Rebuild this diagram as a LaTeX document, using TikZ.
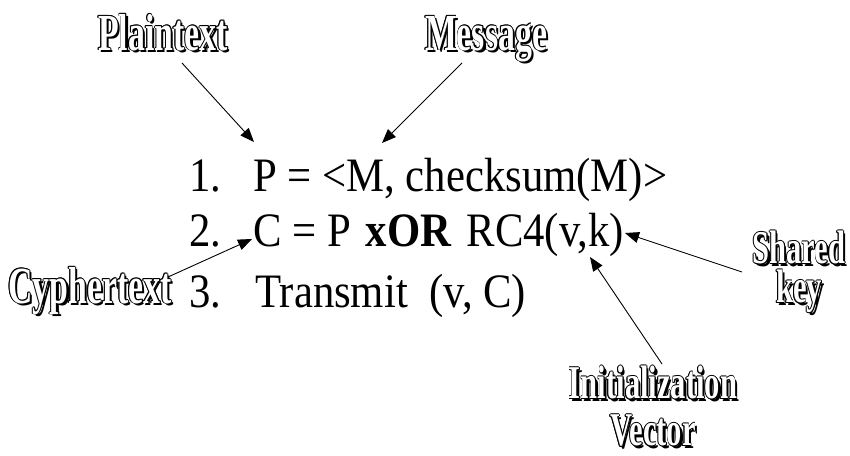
\documentclass[tikz,border=0pt]{standalone}
\usepackage{fontspec}
\usepackage{graphicx}
\setmainfont{Liberation Serif}
\usetikzlibrary{arrows.meta}
\newsavebox\lblsave
\newsavebox\lblwhite
\newcommand\fancy[2]{%
 \sbox\lblsave{\scalebox{0.65}[1]{\fontsize{#1}{#1}\selectfont\bfseries\color{black}#2}}%
 \sbox\lblwhite{\scalebox{0.65}[1]{\fontsize{#1}{#1}\selectfont\bfseries\color{white}#2}}%
 \rlap{\kern2.4pt\raisebox{-2.4pt}{\usebox\lblsave}}%
 \rlap{\kern.8pt\usebox\lblsave}%
 \rlap{\kern-.8pt\usebox\lblsave}%
 \rlap{\raisebox{.8pt}{\usebox\lblsave}}%
 \rlap{\raisebox{-.8pt}{\usebox\lblsave}}%
 \rlap{\kern.56pt\raisebox{.56pt}{\usebox\lblsave}}%
 \rlap{\kern-.56pt\raisebox{.56pt}{\usebox\lblsave}}%
 \rlap{\kern.56pt\raisebox{-.56pt}{\usebox\lblsave}}%
 \rlap{\kern-.56pt\raisebox{-.56pt}{\usebox\lblsave}}%
 \usebox\lblwhite}
\newcommand\mtxt[1]{\scalebox{0.89}[1]{#1}}
\tikzset{
 main/.style={inner sep=0pt, anchor=base west, font=\fontsize{48}{58}\selectfont},
 lbl/.style={inner sep=0pt, anchor=base},
 lbltwo/.style={inner sep=0pt, anchor=north, align=center},
 ptr/.style={draw, line width=0.9pt, -{Triangle[length=14pt,width=11pt]}}
}
\begin{document}
\begin{tikzpicture}[x=1pt,y=-1pt]
\useasboundingbox (0,0) rectangle (850,455);
% numbered lines
\node[main] (n1) at (189,191) {\mtxt{1.}};
\node[main] (l1) at (253,191) {\mtxt{P = <M, checksum(M)>}};
\node[main] (n2) at (189,246) {\mtxt{2.}};
\node[main] (l2) at (253,246) {\mtxt{C = P\hspace{0.35em}\textbf{xOR}\hspace{0.35em}RC4(v,k)}};
\node[main] (n3) at (189,307) {\mtxt{3.}};
\node[main] (l3) at (255,307) {\mtxt{Transmit\hspace{0.5em}(v, C)}};
% labels
\node[lbl] (plain) at (163,50) {\fancy{52}{Plaintext}};
\node[lbl] (msg) at (486,50) {\fancy{52}{Message}};
\node[lbl] (cyph) at (90,303) {\fancy{52}{Cyphertext}};
\node[lbltwo, font=\fontsize{47}{39}\selectfont] (shk) at (799,230) {\fancy{47}{Shared}\\\fancy{47}{key}};
\node[lbltwo, font=\fontsize{47}{47}\selectfont] (ivec) at (653,365) {\fancy{47}{Initialization}\\\fancy{47}{Vector}};
% arrow ends
\coordinate (plainT) at (182,63);
\coordinate (plainH) at (254,142);
\coordinate (msgT) at (462,63);
\coordinate (msgH) at (382,143);
\coordinate (cyphT) at (168,277);
\coordinate (cyphH) at (252,239);
\coordinate (shkT) at (742,272);
\coordinate (shkH) at (625,233);
\coordinate (ivT) at (662,364);
\coordinate (ivH) at (590,257);
\draw[ptr] (plainT) -- (plainH);
\draw[ptr] (msgT) -- (msgH);
\draw[ptr] (cyphT) -- (cyphH);
\draw[ptr] (shkT) -- (shkH);
\draw[ptr] (ivT) -- (ivH);
\end{tikzpicture}
\end{document}
